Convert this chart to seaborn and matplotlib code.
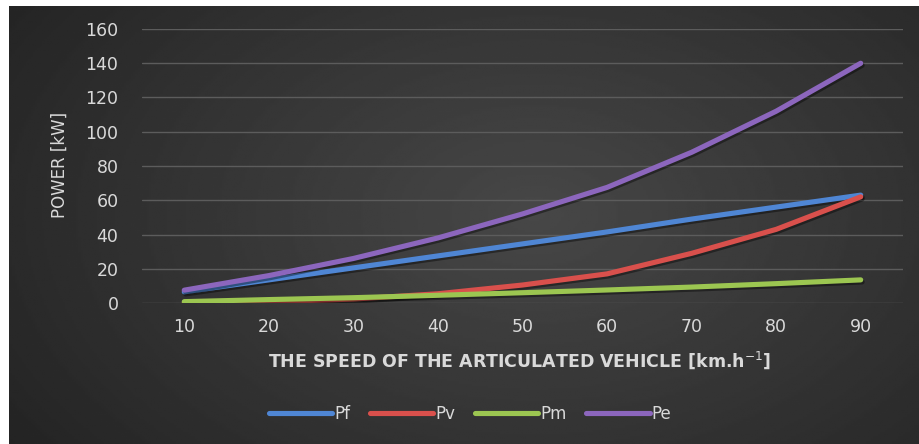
import numpy as np
import pandas as pd
import matplotlib
matplotlib.use("Agg")
import matplotlib.pyplot as plt
import matplotlib.patheffects as pe
import seaborn as sns

speed = [10, 20, 30, 40, 50, 60, 70, 80, 90]
pf = [6.5, 13.5, 20.5, 27.5, 34.5, 41.5, 49, 56, 63]
pv = [0.1, 0.7, 2.3, 5.4, 10.5, 17, 29, 43, 62]
pm = [0.8, 2, 3.1, 4.5, 6, 7.6, 9.3, 11.3, 13.5]
pe_vals = [7.5, 16, 26, 38, 52, 67.5, 88, 112, 140]
series_names = ["Pf", "Pv", "Pm", "Pe"]
y_ticks = [0, 20, 40, 60, 80, 100, 120, 140, 160]

colors = ["#4f86d4", "#d9504c", "#9cc651", "#8c66bd"]

df = pd.DataFrame({"speed": speed, "Pf": pf, "Pv": pv, "Pm": pm, "Pe": pe_vals})
long = df.melt(id_vars="speed", var_name="series", value_name="power")
long["pos"] = long["speed"].map({s: i for i, s in enumerate(speed)})

sns.set_theme(style="dark")
plt.rcParams["font.family"] = ["DejaVu Sans"]

W, H = 920, 444
fig = plt.figure(figsize=(W / 100, H / 100), dpi=100)
fig.patch.set_facecolor("white")

# background gradient panel
bg = fig.add_axes([9 / W, 0, 1 - 9 / W, 1 - 6 / H])
yy, xx = np.mgrid[0:200, 0:400]
cx, cy = 230, 95
r = np.sqrt(((xx - cx) / 260.0) ** 2 + ((yy - cy) / 170.0) ** 2)
val = 0.28 - 0.13 * np.clip(r, 0, 1.2)
bg.imshow(val, cmap="gray", vmin=0, vmax=1, aspect="auto", extent=[0, 1, 0, 1])
bg.set_axis_off()

ax = fig.add_axes([142 / W, 1 - 303 / H, 761 / W, 274 / H])
ax.patch.set_alpha(0)

sns.lineplot(data=long, x="pos", y="power", hue="series", hue_order=series_names,
             palette=colors, linewidth=3.7, ax=ax, legend=False, sort=False,
             solid_capstyle="round", solid_joinstyle="round")
for ln in ax.get_lines():
    ln.set_path_effects([pe.SimpleLineShadow(offset=(1, -1.5), shadow_color="black", alpha=0.4),
                         pe.Normal()])

ax.set_xlim(-0.5, len(speed) - 0.5)
ax.set_ylim(0, 160)
ax.set_xticks(range(len(speed)))
ax.set_xticklabels([str(s) for s in speed])
ax.set_yticks(y_ticks)
ax.set_yticklabels([str(t) for t in y_ticks])
ax.yaxis.grid(True, color="#5c5c5c", linewidth=1.0)
ax.xaxis.grid(False)
for sp in ax.spines.values():
    sp.set_visible(False)
ax.tick_params(axis="both", colors="#d9d9d9", labelsize=12.5, length=0)
ax.tick_params(axis="y", pad=17)
ax.tick_params(axis="x", pad=11)
ax.set_xlabel("")
ax.set_ylabel("")

fig.text(60 / W, 1 - 165 / H, "POWER [kW]", rotation=90, ha="center", va="center",
         color="#d9d9d9", fontsize=12)
fig.text(520 / W, 1 - 360 / H, "THE SPEED OF THE ARTICULATED VEHICLE [km.h$^{-1}$]",
         ha="center", va="center", color="#d9d9d9", fontsize=12.5, fontweight="bold")

handles = [plt.Line2D([], [], color=c, linewidth=3.7, solid_capstyle="round") for c in colors]
leg = fig.legend(handles, series_names, loc="center", bbox_to_anchor=(470 / W, 1 - 414 / H),
                 ncol=4, frameon=False, fontsize=12, handlelength=3.8, handletextpad=0.1,
                 columnspacing=1.2)
for t in leg.get_texts():
    t.set_color("#d9d9d9")

fig.savefig("out.png", dpi=100, facecolor=fig.get_facecolor())
